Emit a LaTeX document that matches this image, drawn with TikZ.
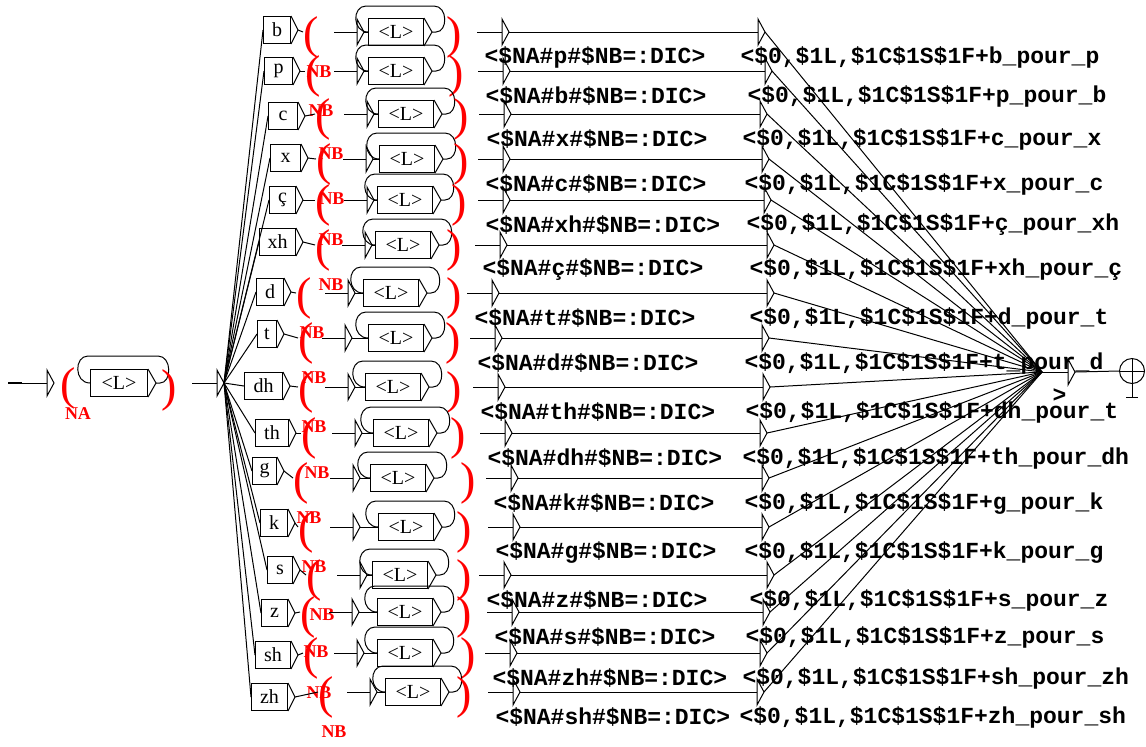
\documentclass[tikz,border=0pt]{standalone}
\usepackage{fontspec}
\setmainfont{Liberation Serif}
\newfontfamily\sortiefont{Liberation Mono}
\usepackage{tikz}

\tikzset{
  vide/.pic={\draw (0,-13) -- (0,13) -- (7,0) -- cycle;},
  boite/.style={draw,anchor=west,inner sep=0pt,minimum height=13.5pt,font=\fontsize{10}{12}\selectfont},
  var/.style={red,inner sep=0pt,font=\bfseries\fontsize{9}{10}\selectfont},
  parenthese/.style={red,anchor=west,inner sep=0pt,font=\fontsize{23}{23}\selectfont},
  sortie/.style={anchor=west,inner sep=0pt,font=\sortiefont\bfseries\fontsize{11.5}{12}\selectfont},
}

\begin{document}
\begin{tikzpicture}[x=0.5pt,y=-0.5pt,line width=0.5pt]
  \fill[white] (0,0) rectangle (1146,746);
  \useasboundingbox (0,0) rectangle (1146,746);
  % etat initial
  \coordinate (depart) at (8,383);
  \coordinate (t0) at (47,383);
  \draw[line width=1.2pt] (depart) -- (22,383);
  \draw (22,383) -- (t0);
  \pic at (t0) {vide};
  \node[parenthese] (pna) at (60,388) {(};
  \node[var] (na) at (78,414) {NA};
  \node[boite,minimum width=28.5pt] (L0) at (90,383) {<L>};
  \draw (L0.north east) -- ([xshift=4pt]L0.east) -- (L0.south east);
  \draw ([xshift=4pt]L0.east) -- (160,383) .. controls (172,383) and (172,356) .. (158,356) -- (88,356) .. controls (74,356) and (74,383) .. (L0.west);
  \node[parenthese] (pnf) at (161,390) {)};
  \coordinate (ti) at (217,383);
  \coordinate (init) at (224,383);
  \draw (192,383) -- (ti);
  \pic at (ti) {vide};
  % etat final
  \coordinate (fin) at (1042,372);
  \coordinate (tf) at (1068,372);
  \draw (fin) -- (tf);
  \pic at (tf) {vide};
  \node[sortie] (og) at (1052,396) {>};
  \node[draw,circle,inner sep=0pt,minimum size=12.5pt] (etat) at (1132,371) {};
  \draw ([xshift=3.5pt]tf) -- (etat.west);
  \draw (etat.north) -- (etat.south) (etat.west) -- (etat.east);
  \draw (etat.south) -- (1132,397) (1126,397) -- (1138,397);
  % une ligne par lettre
  \foreach \i/\y/\ly/\lab/\bx/\bw/\px/\tx/\lx/\rx/\ux/\vx/\ta/\tb in {
    1/32/30/b/263/27/305/357/368/448/502/758/p/b\_pour\_p,
    2/71/71/p/264/28/307/357/368/450/503/765/b/p\_pour\_b,
    3/114/116/c/268/29/317/367/378/455/504/760/x/c\_pour\_x,
    4/159/158/x/270/30/318/366/379/455/503/762/c/x\_pour\_c,
    5/200/200/ç/269/26/317/367/377/453/503/764/xh/ç\_pour\_xh,
    6/245/242/xh/259/36/317/365/375/448/500/767/ç/xh\_pour\_ç,
    7/293/292/d/256/27/298/348/363/448/492/767/t/d\_pour\_t,
    8/338/334/t/257/19/300/345/368/447/495/762/d/t\_pour\_d,
    9/387/386/dh/244/38/300/348/365/448/498/763/th/dh\_pour\_t,
    10/433/433/th/255/33/303/355/373/452/505/760/dh/th\_pour\_dh,
    11/478/471/g/252/24/295/353/370/462/511/762/k/g\_pour\_k,
    12/527/523/k/260/27/300/353/378/458/513/762/g/k\_pour\_g,
    13/575/570/s/267/25/308/360/372/458/504/767/z/s\_pour\_z,
    14/612/613/z/261/26/302/352/377/458/512/763/s/z\_pour\_s,
    15/653/655/sh/255/35/305/357/377/462/510/760/zh/sh\_pour\_zh,
    16/692/697/zh/251/36/320/370/385/458/513/757/sh/zh\_pour\_sh}{
    \node[boite,minimum width=\bw*0.5pt] (lt\i) at (\bx,\ly) {\lab};
    \draw (lt\i.north east) -- ([xshift=3.5pt]lt\i.east) -- (lt\i.south east);
    \draw (init) -- (lt\i.west);
    \node[parenthese] (po\i) at (\px-2,\y+5) {(};
    \node[var] (nb\i) at (\px+14,\y+40) {NB};
    \draw ([xshift=3.5pt]lt\i.east) -- ([yshift=2.5pt]po\i.west);
    \coordinate (sx\i) at (\tx-23,\y);
    \coordinate (ta\i) at (\tx,\y);
    \draw (sx\i) -- (ta\i);
    \pic at (ta\i) {vide};
    \node[boite,minimum width=27.5pt] (L\i) at (\lx,\y) {<L>};
    \draw (L\i.north east) -- ([xshift=4pt]L\i.east) -- (L\i.south east);
    \draw ([xshift=3.5pt]ta\i) -- (L\i.west);
    \draw ([xshift=4pt]L\i.east) -- (\lx+68,\y) .. controls (\lx+80,\y) and (\lx+80,\y-26) .. (\lx+66,\y-26) -- (\lx-2,\y-26) .. controls (\lx-16,\y-26) and (\lx-16,\y) .. (L\i.west);
    \node[parenthese] (pf\i) at (\rx-2,\y+5) {)};
    \coordinate (sy\i) at (\ux-25,\y);
    \coordinate (tb\i) at (\ux,\y);
    \coordinate (tc\i) at (\vx,\y);
    \draw (sy\i) -- (tb\i);
    \pic at (tb\i) {vide};
    \pic at (tc\i) {vide};
    \draw ([xshift=3.5pt]tb\i) -- (tc\i);
    \draw ([xshift=3.5pt]tc\i) -- (fin);
    \node[sortie] (oa\i) at (\ux-18,\y+25) {<\$NA\#\ta\#\$NB=:DIC>};
    \node[sortie] (ob\i) at (\vx-18,\y+25) {<\$0,\$1L,\$1C\$1S\$1F+\tb};
  }
\end{tikzpicture}
\end{document}
